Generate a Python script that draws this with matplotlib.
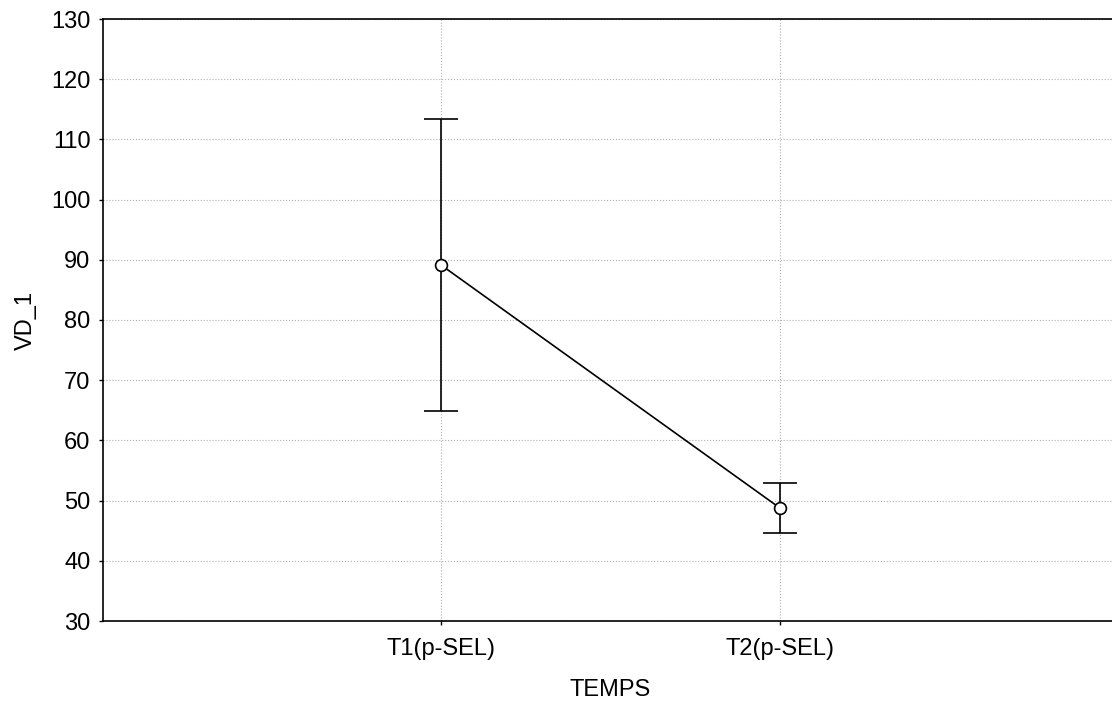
import numpy as np
import matplotlib.pyplot as plt

plt.rcParams['font.family'] = ['Liberation Sans', 'DejaVu Sans']

# data
categories = ["T1(p-SEL)", "T2(p-SEL)"]
means = [89.1, 48.8]
lower = [64.9, 44.6]
upper = [113.4, 52.9]
y_ticks = list(range(30, 131, 10))

x = np.arange(1, len(categories) + 1)
yerr = np.array([np.array(means) - np.array(lower), np.array(upper) - np.array(means)])

fig = plt.figure(figsize=(11.12, 7.02), dpi=100)
ax = fig.add_axes([103 / 1112, 1 - 621 / 702, 1015 / 1112, 602 / 702])

ax.errorbar(x, means, yerr=yerr, color='black', linewidth=1.2, elinewidth=1.2,
            capsize=12, capthick=1.2, marker='o', markersize=8.5,
            markerfacecolor='white', markeredgecolor='black', markeredgewidth=1.2,
            zorder=3)

ax.set_xlim(0, 3)
ax.set_ylim(30, 130)
ax.set_yticks(y_ticks)
ax.set_xticks(x)
ax.set_xticklabels(categories)
ax.grid(True, linestyle=':', color='#b0b0b0', linewidth=0.8)
ax.spines['right'].set_visible(False)
for s in ['left', 'top', 'bottom']:
    ax.spines[s].set_linewidth(1.2)
ax.tick_params(axis='both', labelsize=17, length=3, width=1, direction='out')
ax.tick_params(axis='y', pad=6)
ax.tick_params(axis='x', pad=9)
ax.set_xlabel("TEMPS", fontsize=17, labelpad=14)
ax.set_ylabel("VD_1", fontsize=17, labelpad=10)

plt.savefig("out.png", dpi=100)
